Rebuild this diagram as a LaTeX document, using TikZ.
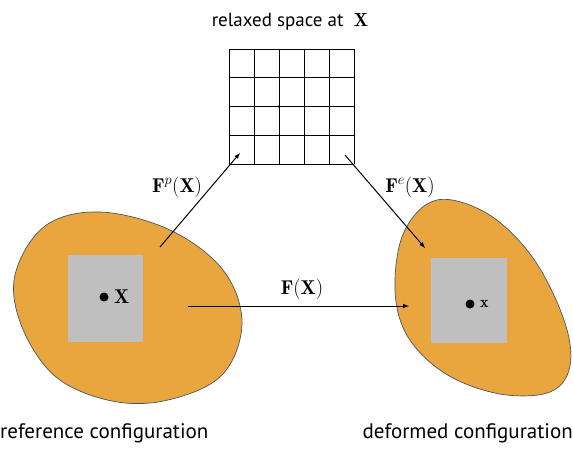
\documentclass[tikz,border=0pt]{standalone}
\usepackage{amsmath}
\usepackage{fontspec}
\newfontfamily\labelfont{PT Sans}
\usetikzlibrary{arrows, calc, positioning}

\definecolor{bodyorange}{HTML}{E9A63F}
\definecolor{patchgray}{HTML}{BFBFBF}
\definecolor{rimgray}{HTML}{4A5560}

\tikzset{
  body/.style={draw=rimgray, fill=bodyorange, line width=0.7pt},
  patch/.style={fill=patchgray, draw=none},
  map/.style={->, line width=1pt},
  caption/.style={font=\labelfont\fontsize{21}{24}\selectfont, inner sep=0pt},
  maplabel/.style={font=\fontsize{20}{22}\selectfont, inner sep=0pt},
}

\begin{document}
\begin{tikzpicture}[>=latex, x=1pt, y=-1pt]
\useasboundingbox (0,0) rectangle (573,448);

% reference body
\draw[body] plot[smooth cycle, tension=0.6] coordinates {
  (15,275) (45,226) (100,212) (170,230) (223,270) (242,323)
  (222,375) (168,400) (112,401) (56,377) (22,327)};
\fill[patch] (68,255) rectangle (143,342);
\fill (104,297) circle (4.5pt) coordinate (dotX);
\node[maplabel, right = 10pt of dotX] (labX) {$\mathbf{X}$};

% deformed body
\draw[body] plot[smooth cycle, tension=0.6] coordinates {
  (437,200) (488,214) (533,258) (564,320) (570,366) (550,392)
  (500,394) (446,374) (408,337) (395,290) (404,232)};
\fill[patch] (431,258) rectangle (507,343);
\fill (470,304) circle (4.5pt) coordinate (dotx);
\node[maplabel, font=\fontsize{16}{18}\selectfont, right = 10pt of dotx] (labx) {$\mathbf{x}$};

% relaxed space
\foreach \i in {0,...,5}
  \draw[line width=0.8pt] (229+25*\i,49) -- (229+25*\i,164);
\foreach \j in {0,...,4}
  \draw[line width=0.8pt] (229,49+28.75*\j) -- (354,49+28.75*\j);
\fill (279,106.5) circle (1.4pt);
\node[font=\labelfont\fontsize{19}{22}\selectfont, inner sep=0pt] (title) at (290,22)
  {relaxed space at \;$\mathbf{X}$};

% maps
\coordinate (pStart) at (160,247);
\coordinate (pEnd) at (240,153);
\coordinate (eStart) at (345,155);
\coordinate (eEnd) at (425,248);
\coordinate (fStart) at (188,306);
\coordinate (fEnd) at (409,306);

\draw[map] (pStart) -- (pEnd);
\draw[map] (eStart) -- (eEnd);
\draw[map] (fStart) -- (fEnd);

\node[maplabel] (Fp) at (177,187) {$\mathbf{F}^{p}(\mathbf{X})$};
\node[maplabel] (Fe) at (410,187) {$\mathbf{F}^{e}(\mathbf{X})$};
\node[maplabel] (F) at (302,289) {$\mathbf{F}(\mathbf{X})$};

% captions
\node[caption, anchor=west] (refcap) at (0,433) {reference configuration};
\node[caption, anchor=east] (defcap) at (573,433) {deformed configuration};

\end{tikzpicture}
\end{document}
